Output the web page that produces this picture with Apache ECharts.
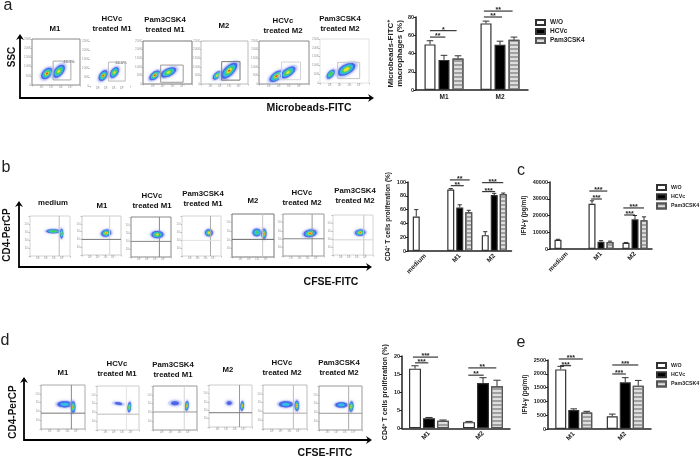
<!DOCTYPE html>
<html>
<head>
<meta charset="utf-8">
<title>Macrophage flow cytometry panels</title>
<script src="https://cdn.jsdelivr.net/npm/echarts@6/dist/echarts.min.js"></script>
<style>
  html, body { margin: 0; padding: 0; background: #fff; }
  #chart { width: 700px; height: 458px; }
  #chart canvas { filter: blur(0.35px); }
</style>
</head>
<body>
<div id="chart"></div>
<script>
// bar chart values
const seriesNames = ["W/O", "HCVc", "Pam3CSK4"];

const aCats = ["M1", "M2"];
const aWO = [50, 73];
const aHCVc = [33, 49.5];
const aPam = [34.5, 55];
const aWOErr = [4, 2.5];
const aHCVcErr = [5, 4];
const aPamErr = [3, 3];
const aTicks = [0, 20, 40, 60, 80];
// category, from bar, to bar, height, number of stars
const aSig = [[0, 0, 1.1, 58, 2], [0, 0, 1.9, 65, 1], [1, -0.15, 1.15, 80, 2], [1, -0.15, 1.9, 86.5, 2]];

const bCats = ["medium", "M1", "M2"];
const bWO = [50, 89, 23];
const bHCVc = ["-", 63, 81];
const bPam = ["-", 56, 82.5];
const bWOErr = [10, 1.5, 5];
const bHCVcErr = [0, 4, 2.5];
const bPamErr = [0, 3, 1.5];
const bTicks = [0, 20, 40, 60, 80, 100];
const bSig = [[1, 0, 1.45, 94.6, 2], [1, -0.1, 2.1, 103, 2], [2, -0.35, 1.1, 86, 3], [2, -0.35, 2, 99, 3]];

const cCats = ["medium", "M1", "M2"];
const cWO = [5500, 27000, 3700];
const cHCVc = ["-", 4400, 17700];
const cPam = ["-", 4200, 17200];
const cWOErr = [300, 1800, 200];
const cHCVcErr = [0, 600, 2300];
const cPamErr = [0, 500, 2000];
const cTicks = [0, 10000, 20000, 30000, 40000];
const cSig = [[1, -0.1, 1.1, 29850, 3], [1, -0.3, 1.7, 34600, 3], [2, -0.2, 1, 20300, 3], [2, -0.3, 2, 24500, 3]];

const dCats = ["M1", "M2"];
const dWO = [16.5, 1.7];
const dHCVc = [2.8, 12.5];
const dPam = [2.1, 11.6];
const dWOErr = [0.8, 0.2];
const dHCVcErr = [0.2, 1.5];
const dPamErr = [0.2, 1.7];
const dTicks = [0, 5, 10, 15, 20];
const dSig = [[0, 0, 0.95, 18.1, 3], [0, -0.15, 1.65, 19.7, 3], [1, -0.05, 1.05, 14.7, 2], [1, -0.05, 1.95, 16.7, 2]];

const eCats = ["M1", "M2"];
const eWO = [2160, 460];
const eHCVc = [690, 1690];
const ePam = [600, 1570];
const eWOErr = [110, 80];
const eHCVcErr = [40, 170];
const ePamErr = [40, 190];
const eTicks = [0, 500, 1000, 1500, 2000, 2500];
const eSig = [[0, -0.05, 0.8, 2293, 3], [0, -0.15, 1.7, 2536, 3], [1, 0, 1.05, 1993, 3], [1, 0, 2, 2319, 3]];

// flow plots: each cloud is x, y, long spread, short spread, tilt, peak density (scale 0-5)
const aClouds = [
  [[31, 25, 14, 9, 45, 5], [56, 30, 16, 9, 50, 3.5]],
  [[33, 23, 15, 9, 55, 5], [61, 30, 15, 9, 55, 3.5]],
  [[24, 20, 13, 7, 40, 5], [52, 27, 17, 8, 25, 3.5]],
  [[34, 20, 11, 6, 45, 3.5], [60, 31, 22, 10, 45, 4.5]],
  [[35, 18, 16, 8, 35, 5], [58, 27, 17, 8, 35, 3.5]],
  [[22, 20, 11, 6, 50, 3], [54, 31, 20, 10, 30, 4]]
];
const bClouds = [
  [[58, 62, 17, 5, 0, 3], [79, 56, 12, 4, 90, 5]],
  [[62, 56, 13, 9, 10, 4.5]],
  [[66, 56, 15, 9, 0, 3.5]],
  [[69, 58, 10, 9, 0, 4]],
  [[59, 57, 10, 9, 0, 2.5], [76, 54, 12, 6, 90, 5]],
  [[66, 54, 16, 9, 10, 4.5]],
  [[68, 56, 13, 8, 5, 4.5]]
];
const dClouds = [
  [[54, 56, 17, 7, 0, 1.5], [73, 50, 13, 5, 90, 5]],
  [[51, 60, 12, 4, -8, 0.5], [77, 52, 12, 4, 85, 4.5]],
  [[50, 61, 12, 6, 0, 0.5], [77, 55, 11, 4, 85, 4.5]],
  [[47, 57, 8, 6, 0, 0.5], [77, 50, 11, 4, 85, 4.5]],
  [[52, 56, 16, 7, 0, 1.5], [77, 53, 12, 5, 90, 4.5]],
  [[52, 57, 14, 6, 0, 1.5], [75, 53, 12, 5, 85, 4.5]]
];

// gates in plot units: rectangles for a, vertical/horizontal dividers for b and d
const aGates = [[44, 11, 81, 52], [46, 11, 88, 53], [36, 4, 82, 44], [44, 9, 83, 52], [45, 10, 83, 51], [36, 10, 81, 47]];
const bDividers = [[73, 40], [71, 40], [71, 39], [73, 39], [73, 41], [71, 41], [77, 38]];
const dDividers = [[69, 36], [70, 36], [71, 41], [71, 34], [69, 36], [69, 38]];

const flowXTicks = ["", "10¹", "10²", "10³", "10⁴", ""];
const flowYTicksSSC = ["0", "50K", "100K", "150K", "200K", "250K"];
const flowYTicksCD4 = ["", "10¹", "10²", "10³", "10⁴", ""];

const aTitles = ["M1", "HCVc\ntreated M1", "Pam3CSK4\ntreated M1", "M2", "HCVc\ntreated M2", "Pam3CSK4\ntreated M2"];
const bTitles = ["medium", "M1", "HCVc\ntreated M1", "Pam3CSK4\ntreated M1", "M2", "HCVc\ntreated M2", "Pam3CSK4\ntreated M2"];
const dTitles = aTitles;

// layout (pixels): plot boxes x0,y0,x1,y1 and title centres
const aBoxes = [[32, 39, 80, 85], [90, 41, 130, 86], [143, 41, 192, 84], [201, 41, 248, 84], [259, 41, 309, 84], [320, 39, 369, 83]];
const bBoxes = [[30, 216, 70, 256], [82, 216, 121, 255], [131, 217, 171, 257], [182, 216, 221, 256], [232, 214, 274, 257], [283, 214, 324, 256], [333, 215, 373, 255]];
const dBoxes = [[41, 385, 85, 429], [97, 386, 139, 430], [153, 386, 197, 430], [209, 385, 252, 427], [263, 385, 307, 429], [319, 386, 362, 430]];
const aTitlePos = [[55, 29], [112, 24], [165, 24.5], [224, 26], [283, 26], [340, 24]];
const bTitlePos = [[53, 203], [102, 206], [152, 201], [203, 198.5], [253, 201], [302, 198], [355, 196]];
const dTitlePos = [[63, 373], [117, 369], [173, 370], [228, 370], [282, 368], [339, 367.5]];
const aFrames = ["#888", "#fff", "#777", "#bbb", "#888", "#e2e2e2"];
const bFrames = ["#d4d4d4", "#ccc", "#888", "#d4d4d4", "#777", "#999", "#d4d4d4"];
const dFrames = ["#aaa", "#ccc", "#999", "#ccc", "#bbb", "#999"];
const aGateColors = ["#aaa", "#bbb", "#999", "#777", "#d4d4d4", "#c4c4c4"];
const bVColors = ["#bbb", "#d4d4d4", "#888", "#aaa", "#c4c4c4", "#999", "#c4c4c4"];
const bHColors = ["transparent", "#777", "#888", "#e2e2e2", "#666", "#888", "#d4d4d4"];
const dVColors = ["#888", "#e2e2e2", "#d4d4d4", "#999", "#bbb", "#aaa"];
const dHColors = ["#777", "#bbb", "#999", "#777", "#aaa", "#999"];

const FONT = '"Liberation Sans", Arial, sans-serif';
const INK = "#222";
const densityColors = ["#c2cbf7", "#4a62ea", "#2cc2e4", "#44d060", "#efe02e", "#ee3020"];
const densityScale = [1.3, 1, 0.74, 0.52, 0.32, 0.17];

const grids = [], xAxes = [], yAxes = [], series = [];

function addGrid(box) {
  grids.push({
    left: box[0], top: box[1], width: box[2] - box[0], height: box[3] - box[1],
    show: box[4] !== undefined, borderColor: box[4], borderWidth: 1, backgroundColor: "#fff"
  });
  return grids.length - 1;
}

function renderCloud(params, api) {
  const c = api.coord([api.value(0), api.value(1)]);
  const long = api.size([api.value(2), 0])[0];
  const short = api.size([api.value(3), 0])[0];
  const tilt = api.value(4) * Math.PI / 180;
  const peak = api.value(5);
  const children = [];
  for (let lvl = 0; lvl <= Math.ceil(peak); lvl++) {
    const frac = Math.min(1, peak - lvl + 1);
    const k = densityScale[lvl] * (lvl ? 0.5 + 0.5 * frac : 1);
    children.push({
      type: "ellipse", x: c[0], y: c[1], rotation: tilt,
      shape: { cx: 0, cy: 0, rx: long * k, ry: short * k },
      style: { fill: densityColors[lvl], opacity: lvl ? 0.85 : 0.7, shadowBlur: lvl ? 1 : 3, shadowColor: densityColors[lvl] }
    });
  }
  return { type: "group", children };
}

function renderGate(params, api) {
  const a = api.coord([api.value(0), api.value(1)]);
  const b = api.coord([api.value(2), api.value(3)]);
  return {
    type: "rect",
    shape: { x: a[0], y: b[1], width: b[0] - a[0], height: a[1] - b[1] },
    style: { fill: "none", stroke: aGateColors[params.seriesIndex / 2 | 0], lineWidth: 1 }
  };
}

function flowPlot(box, frame, clouds, yTicks) {
  const idx = addGrid(box.concat(frame));
  xAxes.push({
    gridIndex: idx, type: "value", min: 0, max: 100, interval: 20,
    axisLine: { show: false }, splitLine: { show: false },
    axisTick: { length: 1.5, lineStyle: { color: "#999", width: 0.6 } },
    axisLabel: { fontSize: 3, margin: 1, color: "#999", fontFamily: FONT, formatter: (v) => flowXTicks[v / 20] }
  });
  yAxes.push({
    gridIndex: idx, type: "value", min: 0, max: 100, interval: 20,
    axisLine: { show: false }, splitLine: { show: false },
    axisTick: { length: 1.5, lineStyle: { color: "#999", width: 0.6 } },
    axisLabel: { fontSize: 3, margin: 1, color: "#999", fontFamily: FONT, formatter: (v) => yTicks[v / 20] }
  });
  series.push({
    type: "custom", coordinateSystem: "cartesian2d", xAxisIndex: idx, yAxisIndex: idx,
    data: clouds, renderItem: renderCloud, silent: true
  });
  return idx;
}

aClouds.forEach((clouds, i) => {
  const idx = flowPlot(aBoxes[i], aFrames[i], clouds, flowYTicksSSC);
  series.push({
    type: "custom", coordinateSystem: "cartesian2d", xAxisIndex: idx, yAxisIndex: idx,
    data: [aGates[i]], renderItem: renderGate, silent: true
  });
});

function addQuadrants(boxes, frames, allClouds, dividers, vColors, hColors) {
  allClouds.forEach((clouds, i) => {
    const idx = flowPlot(boxes[i], frames[i], clouds, flowYTicksCD4);
    series.push({
      type: "custom", coordinateSystem: "cartesian2d", xAxisIndex: idx, yAxisIndex: idx,
      data: [dividers[i]], silent: true,
      renderItem: (params, api) => {
        const p = api.coord([api.value(0), api.value(1)]);
        const cs = params.coordSys;
        return {
          type: "group",
          children: [
            { type: "line", shape: { x1: p[0], y1: cs.y, x2: p[0], y2: cs.y + cs.height }, style: { stroke: vColors[i], lineWidth: 1 } },
            { type: "line", shape: { x1: cs.x, y1: p[1], x2: cs.x + cs.width, y2: p[1] }, style: { stroke: hColors[i], lineWidth: 1 } }
          ]
        };
      }
    });
  });
}
addQuadrants(bBoxes, bFrames, bClouds, bDividers, bVColors, bHColors);
addQuadrants(dBoxes, dFrames, dClouds, dDividers, dVColors, dHColors);

const barStyles = [
  { color: "#fff", borderColor: "#333", borderWidth: 1.2 },
  { color: "#000", borderColor: "#333", borderWidth: 1.2 },
  {
    color: "#dedede", borderColor: "#555", borderWidth: 1.2,
    decal: { symbol: "rect", symbolSize: 1, dashArrayX: [1, 0], dashArrayY: [1.5, 1.5], rotation: 0, color: "#a0a0a0" }
  }
];

function barChart(cfg) {
  const idx = addGrid(cfg.box);
  const ticks = cfg.ticks;
  xAxes.push({
    gridIndex: idx, type: "category", data: cfg.cats,
    axisLine: { lineStyle: { color: INK, width: 1.5 } },
    axisTick: { show: false },
    axisLabel: { fontSize: 6.5, fontWeight: "bold", color: INK, fontFamily: FONT, margin: 4, rotate: cfg.rotate || 0, interval: 0 }
  });
  yAxes.push({
    gridIndex: idx, type: "value", min: ticks[0], max: ticks[ticks.length - 1], interval: ticks[1] - ticks[0],
    splitLine: { show: false },
    axisLine: { show: true, lineStyle: { color: INK, width: 1.5 } },
    axisTick: { show: true, length: 2.5, lineStyle: { color: INK, width: 1 } },
    axisLabel: { fontSize: 5.5, fontWeight: "bold", color: INK, fontFamily: FONT, margin: 2, formatter: (v) => String(v) },
    name: cfg.yName, nameLocation: "middle", nameGap: cfg.nameGap,
    nameTextStyle: {
      fontSize: cfg.nameSize, fontWeight: "bold", color: INK, fontFamily: FONT, lineHeight: 9,
      rich: {
        sup: { fontSize: cfg.nameSize - 2.5, fontWeight: "bold", color: INK, fontFamily: FONT, verticalAlign: "top", lineHeight: 9 },
        b: { fontSize: cfg.nameSize, fontWeight: "bold", color: INK, fontFamily: FONT, lineHeight: 9 }
      }
    }
  });
  const gapPct = ((cfg.pitch - cfg.barW) / cfg.barW * 100) + "%";
  cfg.values.forEach((vals, s) => {
    series.push({
      name: seriesNames[s], type: "bar", xAxisIndex: idx, yAxisIndex: idx,
      data: vals, barWidth: cfg.barW, barGap: gapPct, itemStyle: barStyles[s], silent: true
    });
  });
  const errData = [];
  cfg.values.forEach((vals, s) => {
    vals.forEach((v, c) => {
      if (v !== "-") errData.push([c, s, v, cfg.errs[s][c]]);
    });
  });
  series.push({
    type: "custom", coordinateSystem: "cartesian2d", xAxisIndex: idx, yAxisIndex: idx, silent: true,
    data: errData, z: 3,
    renderItem: (params, api) => {
      const v = api.value(2), e = api.value(3);
      const off = (api.value(1) - 1) * cfg.pitch;
      const lo = api.coord([api.value(0), v]);
      const hi = api.coord([api.value(0), v + e]);
      const x = lo[0] + off, w = cfg.barW * 0.3;
      return {
        type: "group",
        children: [
          { type: "line", shape: { x1: x, y1: lo[1], x2: x, y2: hi[1] }, style: { stroke: "#333", lineWidth: 1 } },
          { type: "line", shape: { x1: x - w, y1: hi[1], x2: x + w, y2: hi[1] }, style: { stroke: "#333", lineWidth: 1 } }
        ]
      };
    }
  });
  series.push({
    type: "custom", coordinateSystem: "cartesian2d", xAxisIndex: idx, yAxisIndex: idx, silent: true,
    data: cfg.sig, z: 4, clip: false,
    renderItem: (params, api) => {
      const p = api.coord([api.value(0), api.value(3)]);
      const x1 = p[0] + (api.value(1) - 1) * cfg.pitch;
      const x2 = p[0] + (api.value(2) - 1) * cfg.pitch;
      return {
        type: "group",
        children: [
          { type: "line", shape: { x1, y1: p[1], x2, y2: p[1] }, style: { stroke: "#111", lineWidth: 1 } },
          {
            type: "text", x: (x1 + x2) / 2, y: p[1] + 2.5,
            style: { text: "*".repeat(api.value(4)), font: "bold 7px " + FONT, fill: "#222", textAlign: "center", textVerticalAlign: "bottom" }
          }
        ]
      };
    }
  });
}

const nameMicro = "{b|Microbeads-FITC}{sup|+}\n{b|macrophages (%)}";
const nameCD4 = "{b|CD4}{sup|+}{b| T cells proliferation (%)}";
const nameIFN = "IFN-γ (pg/ml)";

barChart({
  box: [416, 17, 528, 90], cats: aCats, values: [aWO, aHCVc, aPam], errs: [aWOErr, aHCVcErr, aPamErr],
  ticks: aTicks, sig: aSig, barW: 11, pitch: 14, yName: nameMicro, nameSize: 8, nameGap: 10
});
barChart({
  box: [408, 182, 511.5, 251], cats: bCats, values: [bWO, bHCVc, bPam], errs: [bWOErr, bHCVcErr, bPamErr],
  ticks: bTicks, sig: bSig, barW: 7, pitch: 9, yName: nameCD4, nameSize: 6.5, nameGap: 11, rotate: 45
});
barChart({
  box: [550, 182, 652, 249], cats: cCats, values: [cWO, cHCVc, cPam], errs: [cWOErr, cHCVcErr, cPamErr],
  ticks: cTicks, sig: cSig, barW: 7, pitch: 9, yName: nameIFN, nameSize: 6.5, nameGap: 17, rotate: 45
});
barChart({
  box: [402, 356, 510, 428.3], cats: dCats, values: [dWO, dHCVc, dPam], errs: [dWOErr, dHCVcErr, dPamErr],
  ticks: dTicks, sig: dSig, barW: 12, pitch: 14, yName: nameCD4, nameSize: 7, nameGap: 10, rotate: 45
});
barChart({
  box: [548, 360, 651, 429], cats: eCats, values: [eWO, eHCVc, ePam], errs: [eWOErr, eHCVcErr, ePamErr],
  ticks: eTicks, sig: eSig, barW: 11, pitch: 13, yName: nameIFN, nameSize: 6.5, nameGap: 15, rotate: 45
});

function legendAt(left, top, size, gap) {
  return {
    left, top, orient: "vertical", padding: 0, itemWidth: 9, itemHeight: 5, itemGap: gap, selectedMode: false,
    data: seriesNames, icon: "rect",
    textStyle: { fontSize: size, fontWeight: "bold", color: INK, fontFamily: FONT }
  };
}

function label(text, x, y, size, rotation) {
  return {
    type: "text", x, y, rotation: rotation || 0, silent: true,
    style: { text, font: "bold " + size + "px " + FONT, fill: "#111", textAlign: "center", textVerticalAlign: "middle", lineHeight: 10 }
  };
}
function plain(text, x, y, size) {
  return {
    type: "text", x, y, silent: true,
    style: { text, font: size + "px " + FONT, fill: "#222", textAlign: "center", textVerticalAlign: "middle" }
  };
}
function arrowAxes(x, yTop, yBase, xEnd) {
  const ln = { stroke: "#000", lineWidth: 1.8, fill: "none" };
  return [
    { type: "polyline", silent: true, shape: { points: [[x, yTop + 2], [x, yBase], [xEnd - 2, yBase]] }, style: ln },
    { type: "polygon", silent: true, shape: { points: [[x, yTop], [x + 4, yTop + 6], [x, yTop + 4], [x - 4, yTop + 6]] }, style: { fill: "#000" } },
    { type: "polygon", silent: true, shape: { points: [[xEnd, yBase], [xEnd - 6, yBase - 4], [xEnd - 4, yBase], [xEnd - 6, yBase + 4]] }, style: { fill: "#000" } }
  ];
}

const graphics = [
  plain("a", 8, 6, 16), plain("b", 6, 168, 16), plain("c", 521, 171, 16), plain("d", 5, 341, 16), plain("e", 521, 343, 16),
  ...arrowAxes(20, 34, 98, 374), ...arrowAxes(19, 201, 267, 372), ...arrowAxes(24, 377, 440, 372),
  label("SSC", 12, 57, 10, Math.PI / 2), label("Microbeads-FITC", 309, 108, 10.5),
  label("CD4-PerCP", 7, 235, 10, Math.PI / 2), label("CFSE-FITC", 331, 282, 10.5),
  label("CD4-PerCP", 13, 412, 10, Math.PI / 2), label("CFSE-FITC", 325, 453, 10.5),
  { type: "text", x: 69, y: 62, silent: true, style: { text: "46.3%", font: "4px " + FONT, fill: "#333", textAlign: "center", textVerticalAlign: "middle" } },
  { type: "text", x: 121, y: 63, silent: true, style: { text: "36.0%", font: "4px " + FONT, fill: "#333", textAlign: "center", textVerticalAlign: "middle" } }
];
aTitles.forEach((t, i) => graphics.push(label(t, aTitlePos[i][0], aTitlePos[i][1], 7.8)));
bTitles.forEach((t, i) => graphics.push(label(t, bTitlePos[i][0], bTitlePos[i][1], 7.8)));
dTitles.forEach((t, i) => graphics.push(label(t, dTitlePos[i][0], dTitlePos[i][1], 7.8)));

const chart = echarts.init(document.getElementById("chart"), null, { renderer: "canvas" });
chart.setOption({
  animation: false,
  backgroundColor: "#fff",
  tooltip: { show: false },
  grid: grids,
  xAxis: xAxes,
  yAxis: yAxes,
  legend: [legendAt(535, 19, 6.5, 2), legendAt(656, 184, 5.3, 2.2), legendAt(656, 362, 5.3, 2.2)],
  series,
  graphic: { elements: graphics }
});
</script>
</body>
</html>
